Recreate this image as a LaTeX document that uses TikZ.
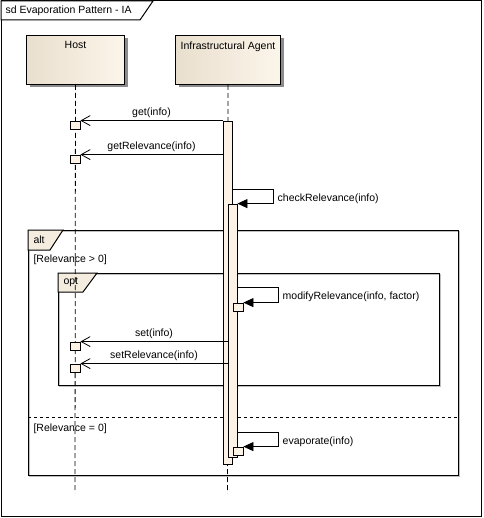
\documentclass[tikz,border=0pt]{standalone}
\usepackage{fontspec}
\setmainfont{Liberation Sans}
\usetikzlibrary{arrows.meta,shadows}
\definecolor{headleft}{HTML}{E9DFCE}
\definecolor{headright}{HTML}{FCF5EA}
\definecolor{actfill}{HTML}{FCF3E6}
\definecolor{tabfill}{HTML}{F4ECDF}
\begin{document}
\begin{tikzpicture}[x=1pt, y=-1pt, font=\fontsize{10.5}{12}\selectfont,
    head/.style={draw, line width=1pt, anchor=north west, minimum height=49pt,
      left color=headleft, right color=headright,
      drop shadow={shadow xshift=3pt, shadow yshift=-3pt, fill=black!45, opacity=1}},
    lifeline/.style={line width=0.8pt, dash pattern=on 5pt off 3pt},
    act/.style={draw, fill=actfill, line width=0.8pt, minimum width=9pt, inner sep=0pt},
    exec/.style={draw, fill=actfill, line width=0.8pt, minimum width=10pt, minimum height=8pt, inner sep=0pt},
    call/.style={line width=0.8pt, -{Straight Barb[length=9pt, width=10pt]}},
    self/.style={line width=0.8pt, -{Triangle[length=10pt, width=9pt]}},
    msg/.style={above, inner sep=2pt, yshift=1pt},
    selfmsg/.style={pos=0.25, right, xshift=1pt, yshift=-2pt},
    frame/.style={line width=1pt},
    tab/.style={draw, fill=tabfill, line width=1pt}]
  \fill[white] (0,0) rectangle (483,518);
  \useasboundingbox (0,0) rectangle (483,518);

  % outer frame
  \draw[frame] (1,1) rectangle (481,516);
  \draw[frame, fill=white] (1,1) -- (153,1) -- (140,20) -- (1,20) -- cycle;
  \node[anchor=west] (title) at (2,11) {sd Evaporation Pattern - IA};

  % combined fragments
  \draw[black!25] (29,231) rectangle (459,476);
  \draw[frame] (28,230) rectangle (458,475);
  \draw[tab] (28,230) -- (63,230) -- (50,250) -- (28,250) -- cycle;
  \node[anchor=west] (alt) at (30,240) {alt};
  \node[anchor=west] (guard1) at (30,260) {[Relevance > 0]};
  \draw[black!25] (59,274) rectangle (440,386);
  \draw[frame] (58,273) rectangle (439,385);
  \draw[tab] (58,273) -- (97,273) -- (83,292) -- (58,292) -- cycle;
  \node[anchor=west] (opt) at (60,282) {opt};
  \draw[line width=0.8pt, dash pattern=on 3pt off 3pt] (28,417) -- (458,417);
  \node[anchor=west] (guard2) at (30,429) {[Relevance = 0]};

  % lifelines
  \node[head, minimum width=98pt, label={[anchor=north, yshift=-3pt]north:Host}] (host) at (26,35) {};
  \node[head, minimum width=105pt, label={[anchor=north, yshift=-3pt]north:Infrastructural Agent}] (ia) at (175,35) {};
  \coordinate (hostend) at (75,493);
  \coordinate (iaend) at (227.5,493);
  \draw[lifeline] (host) -- (hostend);
  \draw[lifeline] (ia) -- (iaend);

  % activations
  \node[act, minimum height=343pt] (act1) at (227.5,292.5) {};
  \node[act, minimum height=253pt] (act2) at (232.5,330.5) {};
  \node[exec] (hb1) at (75,125) {};
  \node[exec] (hb2) at (75,159) {};
  \node[exec] (hb3) at (75,346) {};
  \node[exec] (hb4) at (75,368) {};
  \node[exec] (mb) at (238,307) {};
  \node[exec] (eb) at (238,451) {};

  % messages
  \draw[call] (act1.west |- hb1.north) -- node[msg] {get(info)} (hb1.north east);
  \draw[call] (act1.west |- hb2.north) -- node[msg] {getRelevance(info)} (hb2.north east);
  \draw[call] (act2.west |- hb3.north) -- node[msg] {set(info)} (hb3.north east);
  \draw[call] (act2.west |- hb4.north) -- node[msg] {setRelevance(info)} (hb4.north east);

  \coordinate (cr) at (273,189);
  \coordinate (mr) at (278,287);
  \coordinate (er) at (278,432);
  \draw[self] (act1.east |- cr) -- (cr) |- node[selfmsg] {checkRelevance(info)} (act2.north east);
  \draw[self] (act2.east |- mr) -- (mr) |- node[selfmsg] {modifyRelevance(info, factor)} (mb.north east);
  \draw[self] (act2.east |- er) -- (er) |- node[selfmsg] {evaporate(info)} (eb.north east);
\end{tikzpicture}
\end{document}
